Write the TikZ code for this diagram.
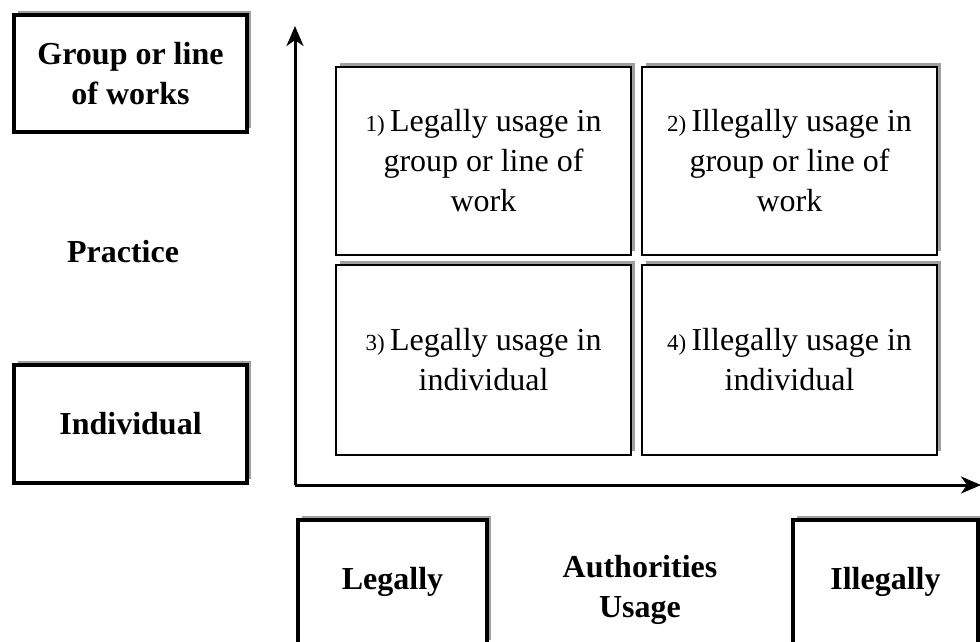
\documentclass[tikz,border=0pt]{standalone}
\usepackage{fontspec}
\setmainfont{Liberation Serif}
\usetikzlibrary{arrows.meta,shadows}

\newcommand{\numsmall}[1]{{\fontsize{23}{23}\selectfont #1)}\,}
\tikzset{x=1pt, y=-1pt,
    legendbox/.style={draw, line width=3.6pt, fill=white, inner sep=0pt,
        align=center, font=\fontsize{32}{40}\selectfont\bfseries,
        drop shadow={shadow xshift=4pt, shadow yshift=4pt, fill=gray!75, opacity=1}},
    cellbox/.style={draw, line width=1.8pt, fill=white, inner sep=0pt,
        minimum width=295pt, align=center, font=\fontsize{32}{40}\selectfont,
        drop shadow={shadow xshift=4pt, shadow yshift=4pt, fill=gray!75, opacity=1}},
    axis/.style={line width=3pt, -{Stealth[length=20pt,width=17pt,inset=6pt]}},
    label/.style={align=center, font=\fontsize{32}{40}\selectfont\bfseries}}

\begin{document}
\begin{tikzpicture}
    \useasboundingbox (0,0) rectangle (980,641);
    % row and column labels
    \node[legendbox, minimum width=233pt, minimum height=117pt] (grp) at (130.5,73.5) {Group or line\\of works};
    \node[legendbox, minimum width=233pt, minimum height=118pt] (ind) at (130.5,424) {Individual};
    \node[label] (practice) at (123,252) {Practice};
    \node[legendbox, minimum width=189pt, minimum height=124pt] (legal) at (392.5,582) {Legally};
    \node[legendbox, minimum width=185pt, minimum height=124pt] (illegal) at (885.5,582) {Illegally};
    \node[label] (auth) at (640,590) {Authorities\\Usage};
    % axes
    \coordinate (origin) at (295,485);
    \coordinate (ytip) at (295,26);
    \coordinate (xtip) at (981,485);
    \draw[axis] (origin) -- (ytip);
    \draw[axis] (origin) -- (xtip);
    % the four cells
    \node[cellbox, minimum height=188pt] (q1) at (483.5,161) {\numsmall{1}Legally usage in\\group or line of\\work};
    \node[cellbox, minimum height=188pt] (q2) at (789.5,161) {\numsmall{2}Illegally usage in\\group or line of\\work};
    \node[cellbox, minimum height=190pt] (q3) at (483.5,360) {\numsmall{3}Legally usage in\\individual};
    \node[cellbox, minimum height=190pt] (q4) at (789.5,360) {\numsmall{4}Illegally usage in\\individual};
\end{tikzpicture}
\end{document}
